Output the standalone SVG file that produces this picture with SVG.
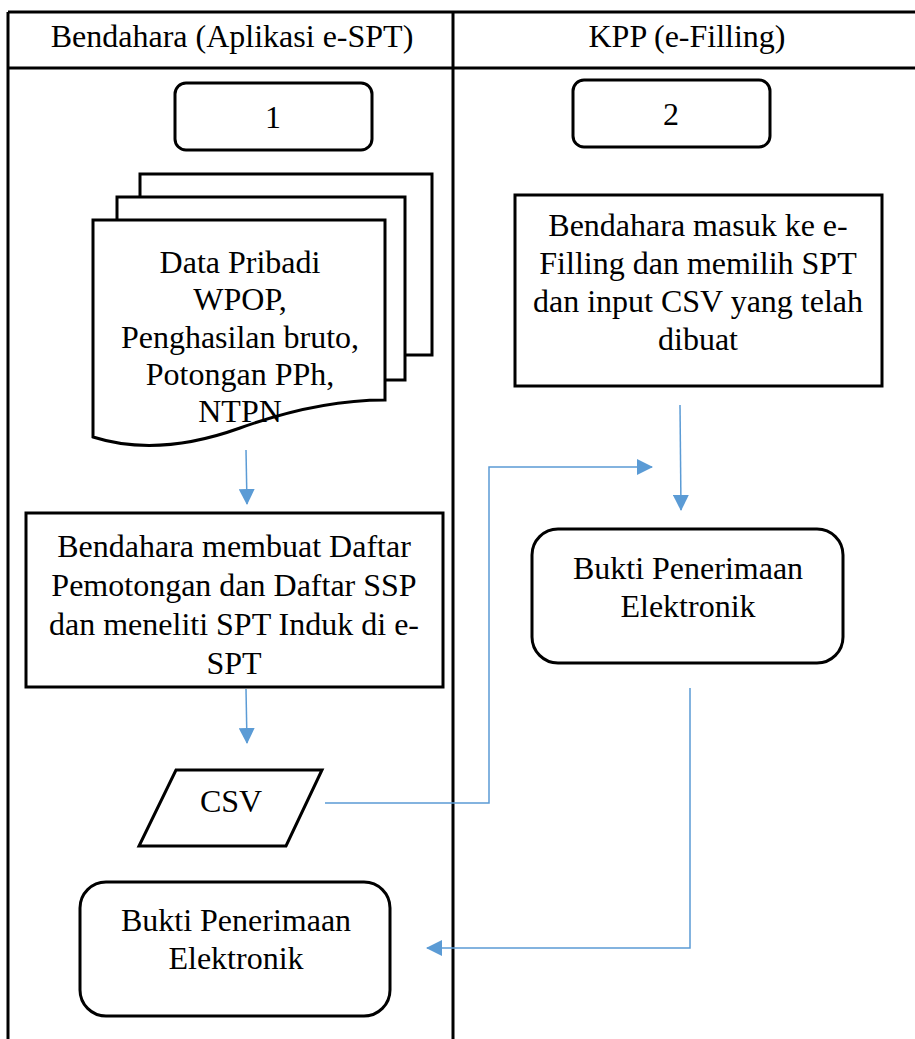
<svg xmlns="http://www.w3.org/2000/svg" width="915" height="1039" viewBox="0 0 915 1039">
<style>
.t{font-family:"Liberation Serif","Times New Roman",serif;font-size:32px;fill:#000;text-anchor:middle}
.s{fill:#fff;stroke:#000;stroke-width:3}
.tb{stroke:#000;stroke-width:3;fill:none}
.c{fill:none;stroke:#5B9BD5;stroke-width:1.5}
</style>
<defs>
<marker id="ah" markerUnits="userSpaceOnUse" markerWidth="16" markerHeight="16" viewBox="0 0 16 16" refX="15" refY="8" orient="auto">
<path d="M0,0 L16,8 L0,16 Z" fill="#5B9BD5"/>
</marker>
</defs>
<g id="table">
<line class="tb" x1="8" y1="12" x2="915" y2="12"/>
<line class="tb" x1="8" y1="68" x2="915" y2="68"/>
<line class="tb" x1="8" y1="12" x2="8" y2="1039"/>
<line class="tb" x1="453" y1="12" x2="453" y2="1039"/>
<text class="t" x="232" y="47">Bendahara (Aplikasi e-SPT)</text>
<text class="t" x="687" y="47">KPP (e-Filling)</text>
</g>
<g id="n1">
<rect class="s" x="175" y="83" width="197" height="67" rx="11"/>
<text class="t" x="273" y="128">1</text>
</g>
<g id="n2">
<rect class="s" x="573" y="80" width="197" height="67" rx="11"/>
<text class="t" x="671" y="125">2</text>
</g>
<g id="doc">
<rect class="s" x="140" y="174" width="292" height="181"/>
<rect class="s" x="117" y="197" width="288" height="183"/>
<path class="s" d="M93,220 H385 V400 C340,400 290,410 240,428 C190,446 140,452 93,437 Z"/>
<text class="t" x="240" y="273">Data Pribadi</text>
<text class="t" x="240" y="310">WPOP,</text>
<text class="t" x="240" y="348">Penghasilan bruto,</text>
<text class="t" x="240" y="385">Potongan PPh,</text>
<text class="t" x="240" y="422">NTPN</text>
</g>
<g id="proc1">
<rect class="s" x="26" y="513" width="417" height="174"/>
<text class="t" x="234" y="557">Bendahara membuat Daftar</text>
<text class="t" x="234" y="596">Pemotongan dan Daftar SSP</text>
<text class="t" x="234" y="635">dan meneliti SPT Induk di e-</text>
<text class="t" x="234" y="674">SPT</text>
</g>
<g id="csv">
<path class="s" d="M176,770 H322 L286,846 H139 Z"/>
<text class="t" x="231" y="812">CSV</text>
</g>
<g id="bpe1">
<rect class="s" x="80" y="882" width="310" height="134" rx="26"/>
<text class="t" x="236" y="931">Bukti Penerimaan</text>
<text class="t" x="236" y="969">Elektronik</text>
</g>
<g id="proc2">
<rect class="s" x="515" y="195" width="367" height="191"/>
<text class="t" x="698" y="236">Bendahara masuk ke e-</text>
<text class="t" x="698" y="274">Filling dan memilih SPT</text>
<text class="t" x="698" y="312">dan input CSV yang telah</text>
<text class="t" x="698" y="350">dibuat</text>
</g>
<g id="bpe2">
<rect class="s" x="532" y="529" width="311" height="134" rx="26"/>
<text class="t" x="688" y="579">Bukti Penerimaan</text>
<text class="t" x="688" y="617">Elektronik</text>
</g>
<g id="connectors">
<path class="c" d="M246,450 L247,504" marker-end="url(#ah)"/>
<path class="c" d="M246,689 L247,743" marker-end="url(#ah)"/>
<path class="c" d="M325,803 H489 V467 H652" marker-end="url(#ah)"/>
<path class="c" d="M680,405 L681,510" marker-end="url(#ah)"/>
<path class="c" d="M690,688 V948 H427" marker-end="url(#ah)"/>
</g>
</svg>
